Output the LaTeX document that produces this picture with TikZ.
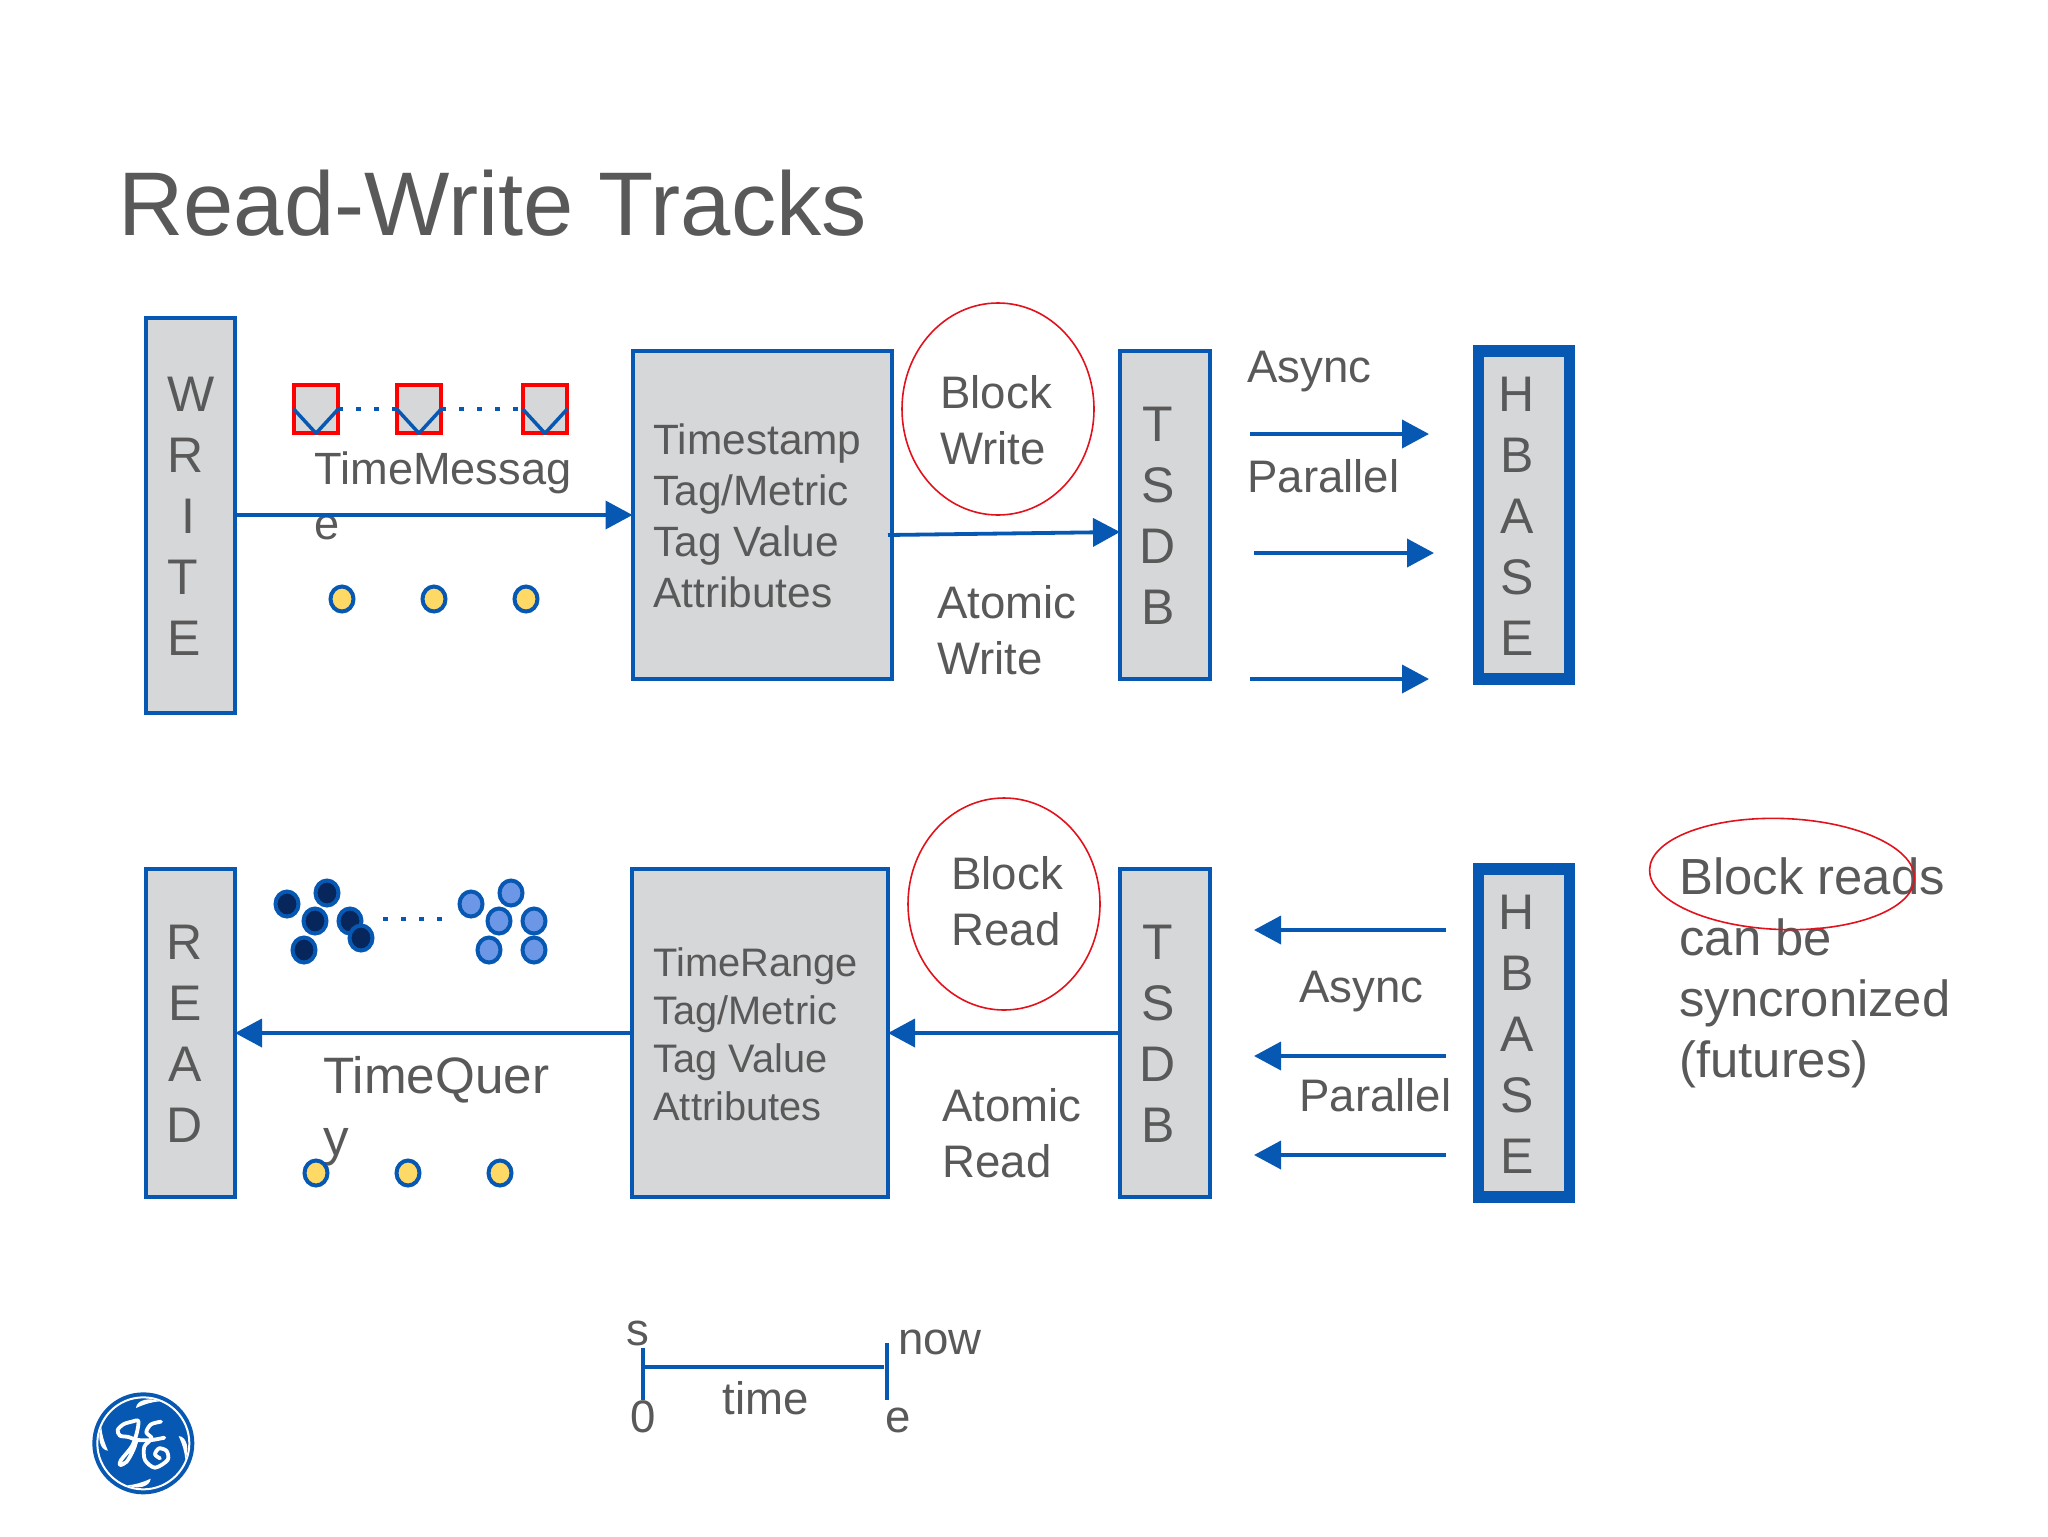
\documentclass[tikz,border=0pt]{standalone}
\usepackage{fontspec}
\setmainfont{Liberation Sans}
\usetikzlibrary{positioning}
\usetikzlibrary{shapes.geometric,arrows.meta}
\definecolor{geblue}{HTML}{0758B2}
\definecolor{boxgrey}{HTML}{D6D7D8}
\definecolor{inkgrey}{HTML}{595959}
\definecolor{markred}{HTML}{E2121C}
\definecolor{sqred}{HTML}{FF0000}
\definecolor{dotyellow}{HTML}{FFD966}
\definecolor{dotdark}{HTML}{06265C}
\definecolor{dotlight}{HTML}{6C96E6}
\tikzstyle{trackbox} = [rectangle, draw=geblue, fill=boxgrey, line width=2pt, inner sep=0pt, outer sep=0pt, minimum width=44.5pt]
\tikzstyle{hbasebox} = [trackbox, line width=5.75pt, minimum width=45.5pt, minimum height=164pt]
\tikzstyle{tsdbbox} = [trackbox, minimum width=45pt, minimum height=164pt]
\tikzstyle{fieldbox} = [trackbox, minimum height=164pt]
\tikzstyle{stack} = [text=inkgrey, align=center, inner sep=0pt, font=\fontsize{25}{30.5}\selectfont]
\tikzstyle{lbl} = [text=inkgrey, align=left, inner sep=0pt, font=\fontsize{22.8}{27.8}\selectfont]
\tikzstyle{red ring} = [ellipse, draw=markred, line width=0.8pt, inner sep=0pt, minimum width=96pt, minimum height=106pt]
\tikzstyle{sq} = [rectangle, draw=sqred, fill=boxgrey, line width=2pt, inner sep=0pt, outer sep=0pt, minimum width=22.3pt, minimum height=24.3pt]
\tikzstyle{dot} = [ellipse, draw=geblue, line width=2pt, inner sep=0pt, minimum width=11.5pt, minimum height=12.5pt]
\tikzstyle{arrow} = [draw=geblue, line width=1.9pt, -{Triangle[length=13.5pt,width=14pt]}]
\tikzstyle{dotline} = [draw=geblue, line width=2.2pt, dash pattern=on 2.4pt off 6.6pt]
\tikzstyle{plain} = [draw=geblue, line width=1.75pt, line join=round]
\tikzstyle{logoink} = [draw=white, line width=1.9pt, line cap=round, line join=round]

\begin{document}
\begin{tikzpicture}[x=0.5pt,y=-0.5pt]
\useasboundingbox (0,0) rectangle (2048,1536);

\node (title) [text=inkgrey, anchor=base west, inner sep=0pt, font=\fontsize{45.2}{54}\selectfont] at (118,235) {Read-Write Tracks};

% write track
\node (write) [trackbox, minimum height=197.5pt] at (190.5,515) {};
\node (msgbox) [fieldbox, minimum width=129.5pt] at (762,515) {};
\node (tsdbw) [tsdbbox] at (1165,515) {};
\node (hbasew) [hbasebox] at (1524,515) {};
\node (writetxt) [stack, align=left, anchor=west] at (167,516) {W\\R\\\hspace*{7pt}I\\T\\E};
\node (tsdbwtxt) [stack] at (1158,516) {T\\S\\D\\B};
\node (hbasewtxt) [stack] at (1517,516) {H\\B\\A\\S\\E};

\node (msgtxt) [lbl, anchor=west, font=\fontsize{21.2}{25.6}\selectfont] at (653,516) {Timestamp\\Tag/Metric\\Tag Value\\Attributes};
\node (blockw) [lbl, anchor=west] at (940,420) {Block\\Write};
\node (atomw) [lbl, anchor=west] at (937,630) {Atomic\\Write};
\node (asyncw) [lbl, anchor=base west] at (1247,382) {Async};
\node (parw) [lbl, anchor=base west] at (1247,492) {Parallel};
\node (tmsg) [lbl, anchor=west, font=\fontsize{22.6}{27.5}\selectfont] at (314,496) {TimeMessag\\e};

\foreach \i/\x in {1/316,2/419,3/545}
{
  \node (sq\i) [sq] at (\x,409) {};
  \draw [plain] (sq\i.west) -- (sq\i.south) -- (sq\i.east);
}
\draw [dotline] (sq1.east) -- (sq2.west);
\draw [dotline] (sq2.east) -- (sq3.west);
\foreach \i/\x in {1/342,2/434,3/526}
  \node (yw\i) [dot, fill=dotyellow] at (\x,599) {};

\draw [arrow] (write.east |- 0,515) -- (msgbox.west |- 0,515);
\coordinate (bw1) at (888,535);
\coordinate (bw2) at (tsdbw.west |- 0,532);
\draw [arrow] (bw1) -- (bw2);
\coordinate (aw1) at (1250,434);
\coordinate (aw2) at (1429,434);
\coordinate (aw3) at (1254,553);
\coordinate (aw4) at (1434,553);
\coordinate (aw5) at (1250,679);
\coordinate (aw6) at (1429,679);
\draw [arrow] (aw1) -- (aw2);
\draw [arrow] (aw3) -- (aw4);
\draw [arrow] (aw5) -- (aw6);
\node (ringw) [red ring] at (998,409) {};

% read track
\node (read) [trackbox, minimum height=164pt] at (190.5,1033) {};
\node (qrybox) [fieldbox, minimum width=128pt] at (760,1033) {};
\node (tsdbr) [tsdbbox] at (1165,1033) {};
\node (hbaser) [hbasebox] at (1524,1033) {};
\node (readtxt) [stack] at (185,1034) {R\\E\\A\\D};
\node (tsdbrtxt) [stack] at (1158,1034) {T\\S\\D\\B};
\node (hbasertxt) [stack] at (1517,1034) {H\\B\\A\\S\\E};

\node (qrytxt) [lbl, anchor=west, font=\fontsize{19.9}{24}\selectfont] at (653,1034) {TimeRange\\Tag/Metric\\Tag Value\\Attributes};
\node (blockr) [lbl, anchor=west] at (951,901) {Block\\Read};
\node (atomr) [lbl, anchor=west] at (942,1133) {Atomic\\Read};
\node (asyncr) [lbl, anchor=base west] at (1299,1002) {Async};
\node (parr) [lbl, anchor=base west] at (1299,1111) {Parallel};
\node (tqry) [lbl, anchor=west, font=\fontsize{25.6}{31}\selectfont] at (323,1111) {TimeQuer\\y};

\foreach \i/\x/\y in {1/287/904,2/327/893,3/315/921,4/350/921,5/361/938,6/304/950}
  \node (dk\i) [dot, fill=dotdark] at (\x,\y) {};
\foreach \i/\x/\y in {1/471/904,2/511/893,3/499/921,4/534/921,5/489/950,6/534/950}
  \node (lt\i) [dot, fill=dotlight] at (\x,\y) {};
\coordinate (gap1) at (383,919);
\coordinate (gap2) at (442,919);
\draw [dotline] (gap1) -- (gap2);
\foreach \i/\x in {1/316,2/408,3/500}
  \node (yr\i) [dot, fill=dotyellow] at (\x,1173) {};

\draw [arrow] (tsdbr.west |- 0,1033) -- (qrybox.east |- 0,1033);
\draw [arrow] (qrybox.west |- 0,1033) -- (read.east |- 0,1033);
\coordinate (ar1) at (1446,930);
\coordinate (ar2) at (1254,930);
\coordinate (ar3) at (1446,1056);
\coordinate (ar4) at (1254,1056);
\coordinate (ar5) at (1446,1155);
\coordinate (ar6) at (1254,1155);
\draw [arrow] (ar1) -- (ar2);
\draw [arrow] (ar3) -- (ar4);
\draw [arrow] (ar5) -- (ar6);
\node (ringr) [red ring] at (1004,904) {};

% note
\node (note) [lbl, anchor=west, font=\fontsize{25.4}{30.6}\selectfont] at (1679,973) {Block reads\\can be\\syncronized\\(futures)};
\node (ringn) [ellipse, draw=markred, line width=0.8pt, inner sep=0pt, minimum width=132.5pt, minimum height=55.5pt, rotate=-2] at (1782,874) {};

% time scale
\coordinate (s1) at (643,1348);
\coordinate (s2) at (643,1400);
\coordinate (e1) at (887,1343);
\coordinate (e2) at (887,1400);
\coordinate (m1) at (645,1367);
\coordinate (m2) at (884,1367);
\draw [plain] (s1) -- (s2);
\draw [plain] (e1) -- (e2);
\draw [plain, line width=2.2pt] (m1) -- (m2);
\node (tstart) [lbl] at (638,1333) {s};
\node (tnow) [lbl] at (940,1342) {now};
\node (tzero) [lbl] at (643,1417) {0};
\node (tend) [lbl] at (898,1420) {e};
\node (tlabel) [lbl] at (766,1398) {time};

% logo
\begin{scope}[shift={(70,1380)},x=0.16667pt,y=-0.16667pt]
\node (logo) [circle, fill=geblue, inner sep=0pt, outer sep=0pt, minimum size=51pt] at (220,190) {};
\node (logoring) [circle, draw=white, line width=1pt, inner sep=0pt, minimum size=46pt] at (logo.center) {};
\foreach \a in {0,90,180,270}
  \fill [white, rotate around={-\a:(220,190)}] (198,84) .. controls (200,58) and (240,52) .. (268,64) .. controls (245,66) and (225,72) .. (198,84) -- cycle;
% G
\draw [logoink] plot [smooth] coordinates {(173,170) (150,167) (143,150) (160,133) (185,125) (205,123) (200,160) (185,200) (153,240) (150,255) (170,245) (190,210) (200,180)};
\draw [logoink] plot [smooth] coordinates {(173,170) (205,180) (245,180) (283,173)};
% E
\draw [logoink] plot [smooth] coordinates {(273,125) (243,133) (229,157) (245,175) (223,200) (225,240) (255,263) (293,240) (290,213) (267,205) (255,223) (270,235)};
\end{scope}
\end{tikzpicture}
\end{document}
